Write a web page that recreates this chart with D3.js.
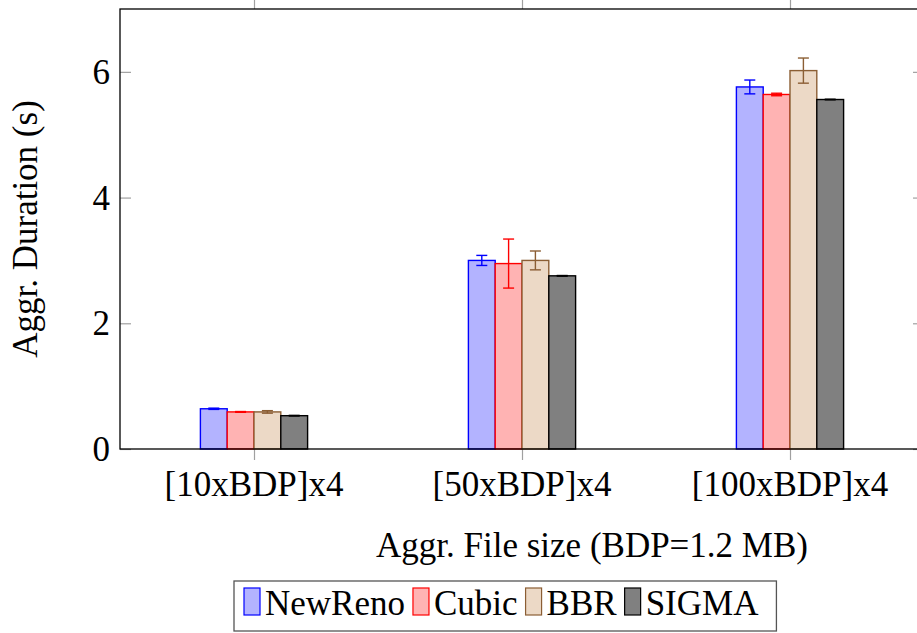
<!DOCTYPE html>
<html>
<head>
<meta charset="utf-8">
<script src="https://cdn.jsdelivr.net/npm/d3@7"></script>
<style>
  body { margin: 0; background: #fff; }
  svg { display: block; font-family: "Liberation Serif", "Times New Roman", serif; }
</style>
</head>
<body>
<div id="chart"></div>
<script>
// categories and series
var categories = ["[10xBDP]x4", "[50xBDP]x4", "[100xBDP]x4"];
var seriesNames = ["NewReno", "Cubic", "BBR", "SIGMA"];

// mean values (s)
var newReno = [0.64, 3.00, 5.76];
var cubic = [0.59, 2.95, 5.64];
var bbr = [0.59, 3.00, 6.02];
var sigma = [0.53, 2.755, 5.56];

// error bar half-heights (s)
var newRenoErr = [0.01, 0.08, 0.11];
var cubicErr = [0.006, 0.39, 0.02];
var bbrErr = [0.02, 0.15, 0.20];
var sigmaErr = [0.005, 0.005, 0.005];

var yTicks = [0, 2, 4, 6];

var w = 917;
var h = 633;

// plot box (right edge lies past the window, as in the original)
var boxLeft = 120, boxRight = 924, boxTop = 9, boxBottom = 449;

var fills = ["#b3b3ff", "#ffb3b3", "#ecd9c6", "#808080"];
var strokes = ["#0000ff", "#ff0000", "#8b5e34", "#000000"];

var values = [newReno, cubic, bbr, sigma];
var errors = [newRenoErr, cubicErr, bbrErr, sigmaErr];

var svg = d3.select("#chart")
  .append("svg")
  .attr("width", w)
  .attr("height", h);

var xScale = d3.scaleLinear()
  .domain([-0.5, categories.length - 0.5])
  .range([boxLeft, boxRight]);

var yScale = d3.scaleLinear()
  .domain([0, 7])
  .range([boxBottom, boxTop]);

// bars of a group sit side by side round the category
var groupWidth = xScale(0.2) - xScale(-0.2);
var inner = d3.scaleBand()
  .domain(seriesNames)
  .range([-groupWidth / 2, groupWidth / 2]);

// flatten into rows for drawing
var rows = [];
seriesNames.forEach(function (s, si) {
  categories.forEach(function (c, ci) {
    rows.push({ s: s, si: si, ci: ci, v: values[si][ci], e: errors[si][ci] });
  });
});

// ticks (gray) -- y inward on both sides, x outward top and bottom
var tickColor = "#a0a0a0";
var tickLen = 11;

var yAxisL = d3.axisLeft(yScale).tickValues(yTicks).tickSize(-tickLen).tickFormat("");
var yAxisR = d3.axisRight(yScale).tickValues(yTicks).tickSize(-tickLen).tickFormat("");
var xAxisB = d3.axisBottom(xScale).tickValues(d3.range(categories.length)).tickSize(tickLen).tickFormat("");
var xAxisT = d3.axisTop(xScale).tickValues(d3.range(categories.length)).tickSize(tickLen).tickFormat("");

[[yAxisL, "translate(" + boxLeft + ",0)"],
 [yAxisR, "translate(" + boxRight + ",0)"],
 [xAxisB, "translate(0," + boxBottom + ")"],
 [xAxisT, "translate(0," + boxTop + ")"]].forEach(function (a) {
  var g = svg.append("g").attr("transform", a[1]).call(a[0]);
  g.select(".domain").remove();
  g.selectAll(".tick line").attr("stroke", tickColor).attr("stroke-width", 1.2);
});

// bars
svg.append("g")
  .selectAll("rect")
  .data(rows)
  .enter()
  .append("rect")
  .attr("x", function (d) { return xScale(d.ci) + inner(d.s); })
  .attr("y", function (d) { return yScale(d.v); })
  .attr("width", inner.bandwidth())
  .attr("height", function (d) { return yScale(0) - yScale(d.v); })
  .attr("fill", function (d) { return fills[d.si]; })
  .attr("stroke", function (d) { return strokes[d.si]; })
  .attr("stroke-width", 1.4);

// error bars
var errG = svg.append("g")
  .selectAll("g")
  .data(rows)
  .enter()
  .append("g")
  .attr("stroke", function (d) { return strokes[d.si]; })
  .attr("stroke-width", 1.4);

var capHalf = 5.5;
function cx(d) { return xScale(d.ci) + inner(d.s) + inner.bandwidth() / 2; }

errG.append("line")
  .attr("x1", cx).attr("x2", cx)
  .attr("y1", function (d) { return yScale(d.v + d.e); })
  .attr("y2", function (d) { return yScale(d.v - d.e); });
errG.append("line")
  .attr("x1", function (d) { return cx(d) - capHalf; })
  .attr("x2", function (d) { return cx(d) + capHalf; })
  .attr("y1", function (d) { return yScale(d.v + d.e); })
  .attr("y2", function (d) { return yScale(d.v + d.e); });
errG.append("line")
  .attr("x1", function (d) { return cx(d) - capHalf; })
  .attr("x2", function (d) { return cx(d) + capHalf; })
  .attr("y1", function (d) { return yScale(d.v - d.e); })
  .attr("y2", function (d) { return yScale(d.v - d.e); });

// plot box
svg.append("rect")
  .attr("x", boxLeft).attr("y", boxTop)
  .attr("width", boxRight - boxLeft).attr("height", boxBottom - boxTop)
  .attr("fill", "none")
  .attr("stroke", "#000")
  .attr("stroke-width", 1.3);

// tick labels
var fontSize = 35;
svg.append("g")
  .selectAll("text")
  .data(yTicks)
  .enter()
  .append("text")
  .attr("x", boxLeft - 10)
  .attr("y", function (d) { return yScale(d) + 12; })
  .attr("text-anchor", "end")
  .attr("font-size", fontSize)
  .text(function (d) { return d; });

svg.append("g")
  .selectAll("text")
  .data(categories)
  .enter()
  .append("text")
  .attr("x", function (d, i) { return xScale(i); })
  .attr("y", 496)
  .attr("text-anchor", "middle")
  .attr("font-size", fontSize)
  .text(function (d) { return d; });

// axis titles
svg.append("text")
  .attr("x", 592)
  .attr("y", 557)
  .attr("text-anchor", "middle")
  .attr("font-size", fontSize)
  .text("Aggr. File size (BDP=1.2 MB)");

svg.append("text")
  .attr("transform", "translate(37," + (boxTop + boxBottom) / 2 + ") rotate(-90)")
  .attr("text-anchor", "middle")
  .attr("font-size", fontSize)
  .text("Aggr. Duration (s)");

// legend
var legend = svg.append("g");
var legBox = legend.append("rect")
  .attr("fill", "#fff")
  .attr("stroke", "#555")
  .attr("stroke-width", 1.3);

var lx = 244;
seriesNames.forEach(function (s, i) {
  legend.append("rect")
    .attr("x", lx).attr("y", 588)
    .attr("width", 16).attr("height", 27)
    .attr("fill", fills[i])
    .attr("stroke", strokes[i])
    .attr("stroke-width", 1.2);
  var t = legend.append("text")
    .attr("x", lx + 21)
    .attr("y", 615)
    .attr("font-size", fontSize)
    .text(s);
  lx = lx + 21 + t.node().getComputedTextLength() + 8;
});
legBox.attr("x", 234).attr("y", 581)
  .attr("width", lx + 10 - 234)
  .attr("height", 50);
</script>
</body>
</html>
